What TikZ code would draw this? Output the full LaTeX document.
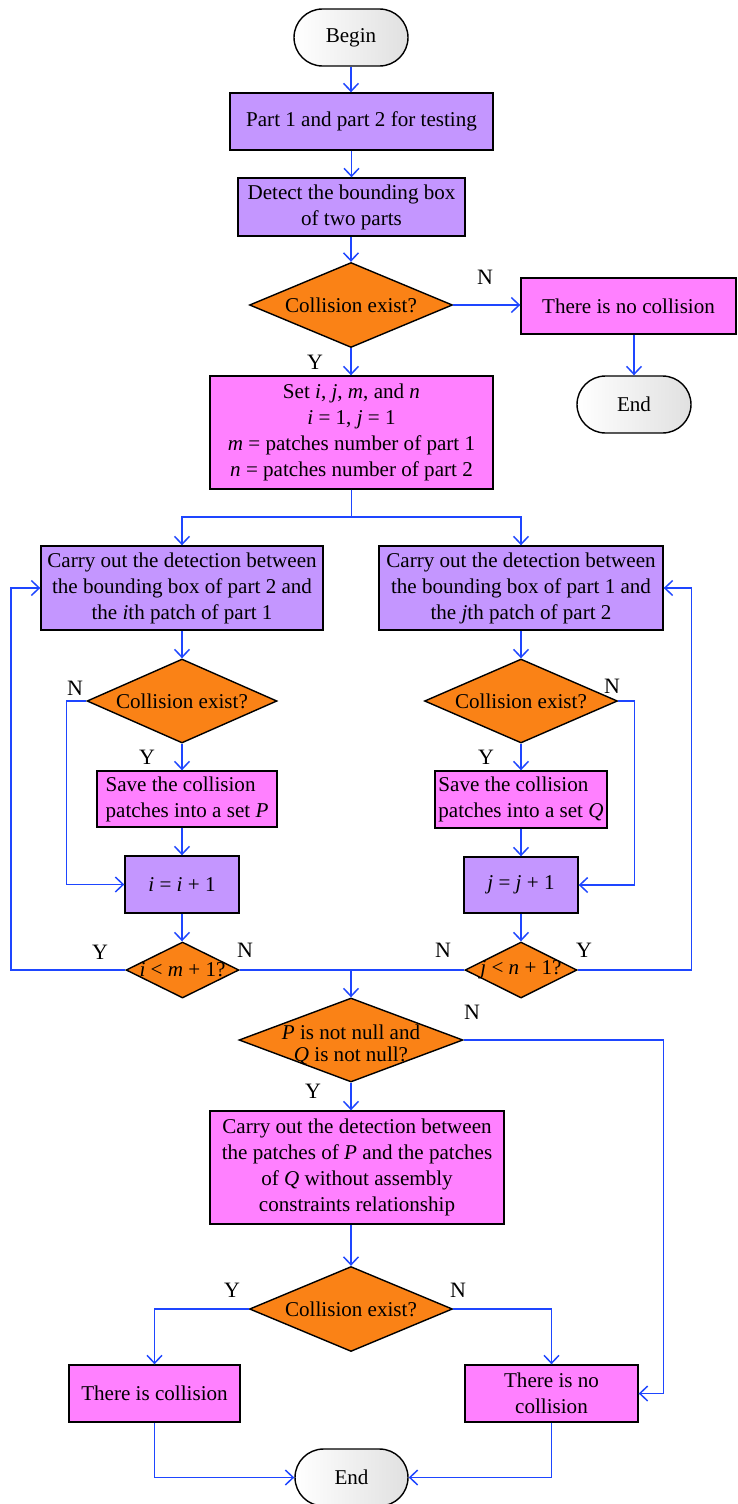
\documentclass[tikz,border=0pt]{standalone}
\usepackage{fontspec}
\setmainfont{Liberation Serif}
\usetikzlibrary{arrows.meta,shapes.geometric,calc}
\definecolor{lpurple}{RGB}{196,150,255}
\definecolor{lpink}{RGB}{255,128,255}
\definecolor{dorange}{RGB}{250,130,22}
\definecolor{lineblue}{RGB}{30,70,255}
\tikzset{
  base/.style={draw=black, line width=0.8pt, inner sep=2pt, font=\fontsize{12}{14.8}\selectfont, align=center},
  pbox/.style={base, rectangle, fill=lpurple},
  mbox/.style={base, rectangle, fill=lpink},
  term/.style={base, rectangle, rounded corners=0.57cm, left color=white, right color=black!12},
  dia/.style={base, diamond, fill=dorange, inner sep=0pt},
  dtext/.style={font=\fontsize{12}{12.5}\selectfont, align=center, inner sep=0pt, text=black},
  yn/.style={font=\fontsize{12.5}{14}\selectfont, inner sep=0pt},
  ln/.style={draw=lineblue, line width=0.85pt},
  arr/.style={ln, -{Straight Barb[length=4.5pt,width=8.5pt]}}
}
\begin{document}
\begin{tikzpicture}[x=0.02cm,y=-0.02cm]
\useasboundingbox (0,0) rectangle (737,1504);
% nodes
\node[term, minimum width=2.28cm, minimum height=1.14cm] (begin) at (351,37.5) {Begin};
\node[pbox, minimum width=5.26cm, minimum height=1.14cm] (b1) at (361.5,121.5) {Part 1 and part 2 for testing};
\node[pbox, minimum width=4.54cm, minimum height=1.16cm] (b2) at (351.5,207) {Detect the bounding box\\of two parts};
\node[dia, minimum width=4.06cm, minimum height=1.70cm, label={[dtext]center:Collision exist?}] (d1) at (351,305) {};
\node[mbox, minimum width=4.30cm, minimum height=1.12cm] (nocoll) at (628.5,306) {There is no collision};
\node[term, minimum width=2.28cm, minimum height=1.14cm] (end1) at (634,404.5) {End};
\node[mbox, minimum width=5.66cm, minimum height=2.26cm] (set) at (351.5,432.5)
  {Set \textit{i}, \textit{j}, \textit{m}, and \textit{n}\\\textit{i} = 1, \textit{j} = 1\\\textit{m} = patches number of part 1\\\textit{n} = patches number of part 2};
\node[pbox, minimum width=5.64cm, minimum height=1.68cm] (L1) at (182,588)
  {Carry out the detection between\\the bounding box of part 2 and\\the \textit{i}th patch of part 1};
\node[pbox, minimum width=5.68cm, minimum height=1.68cm] (R1) at (521,588)
  {Carry out the detection between\\the bounding box of part 1 and\\the \textit{j}th patch of part 2};
\node[dia, minimum width=3.80cm, minimum height=1.68cm, label={[dtext]center:Collision exist?}] (Ld) at (182,701) {};
\node[dia, minimum width=3.86cm, minimum height=1.68cm, label={[dtext]center:Collision exist?}] (Rd) at (521,701) {};
\node[mbox, align=left, minimum width=3.60cm, minimum height=1.12cm] (LP) at (187,799) {Save the collision\\patches into a set \textit{P}};
\node[mbox, align=left, minimum width=3.40cm, minimum height=1.14cm] (RQ) at (521,799.5) {Save the collision\\patches into a set \textit{Q}};
\node[pbox, minimum width=2.28cm, minimum height=1.14cm] (Li) at (182,884.5) {\textit{i} = \textit{i} + 1};
\node[pbox, minimum width=2.28cm, minimum height=1.12cm] (Rj) at (521,885) {\textit{j} = \textit{j} + 1};
\node[dia, minimum width=2.26cm, minimum height=1.12cm, label={[dtext]center:\textit{i} < \textit{m} + 1?}] (Ls) at (182.5,970) {};
\node[dia, minimum width=2.24cm, minimum height=1.12cm, label={[dtext]center:\textit{j} < \textit{n} + 1?}] (Rs) at (521,970) {};
\node[dia, minimum width=4.48cm, minimum height=1.68cm, label={[dtext, yshift=-3pt]center:{\textit{P} is not null and\\\textit{Q} is not null?}}] (Pd) at (351,1040) {};
\node[mbox, minimum width=5.88cm, minimum height=2.26cm] (big) at (357,1167.5)
  {Carry out the detection between\\the patches of \textit{P} and the patches\\of \textit{Q} without assembly\\constraints relationship};
\node[dia, minimum width=4.06cm, minimum height=1.70cm, label={[dtext]center:Collision exist?}] (d3) at (351,1309) {};
\node[mbox, minimum width=3.42cm, minimum height=1.14cm] (yes) at (154.5,1393.5) {There is collision};
\node[mbox, minimum width=3.46cm, minimum height=1.14cm] (no) at (551.5,1393.5) {There is no\\collision};
\node[term, minimum width=2.26cm, minimum height=1.14cm] (end2) at (351.5,1477.5) {End};
% Y/N labels
\node[yn] (n1) at (485,277) {N};
\node[yn] (y1) at (315,362) {Y};
\node[yn] (n2) at (75,688) {N};
\node[yn] (y2) at (147,757) {Y};
\node[yn] (n3) at (612,686) {N};
\node[yn] (y3) at (486,757) {Y};
\node[yn] (y4) at (100,952) {Y};
\node[yn] (n4) at (245,950) {N};
\node[yn] (n5) at (443,950) {N};
\node[yn] (y5) at (584,950) {Y};
\node[yn] (n6) at (472,1012) {N};
\node[yn] (y6) at (313,1091) {Y};
\node[yn] (y7) at (232,1290) {Y};
\node[yn] (n7) at (458,1290) {N};
% coordinates
\coordinate (sp) at (351.5,517);
\coordinate (mg) at (351,970);
% connectors
\draw[arr] (begin.south) -- (begin.south |- b1.north);
\draw[arr] (b2 |- b1.south) -- (b2.north);
\draw[arr] (b2.south -| d1) -- (d1.north);
\draw[arr] (d1.east) -- (d1.east -| nocoll.west);
\draw[arr] (end1 |- nocoll.south) -- (end1.north);
\draw[arr] (d1.south) -- (d1.south |- set.north);
\draw[ln] (set.south) -- (sp);
\draw[arr] (sp) -| (L1.north);
\draw[arr] (sp) -| (R1.north);
% left branch
\draw[arr] (L1.south) -- (Ld.north);
\draw[arr] (Ld.south) -- (Ld.south |- LP.north);
\draw[arr] (Li |- LP.south) -- (Li.north);
\draw[arr] (Li.south) -- (Li.south |- Ls.north);
\draw[arr] (Ld.west) -- ++(-20,0) |- (Li.west);
\draw[arr] (Ls.west) -- ++(-114.5,0) |- (L1.west);
% right branch
\draw[arr] (R1.south) -- (Rd.north);
\draw[arr] (Rd.south) -- (RQ.north);
\draw[arr] (RQ.south) -- (Rj.north);
\draw[arr] (Rj.south) -- (Rs.north);
\draw[arr] (Rd.east) -- ++(16.5,0) |- (Rj.east);
\draw[arr] (Rs.east) -- ++(114,0) |- (R1.east);
% merge
\draw[ln] (Ls.east) -- (mg);
\draw[ln] (Rs.west) -- (mg);
\draw[arr] (mg) -- (Pd.north);
\draw[arr] (Pd.south) -- (Pd.south |- big.north);
\draw[arr] (Pd.east) -- ++(200,0) |- (no.east);
\draw[arr] (big.south -| d3) -- (d3.north);
\draw[arr] (d3.west) -| (yes.north);
\draw[arr] (d3.east) -| (no.north);
\draw[arr] (yes.south) |- (end2.west);
\draw[arr] (no.south) |- (end2.east);
\end{tikzpicture}
\end{document}
